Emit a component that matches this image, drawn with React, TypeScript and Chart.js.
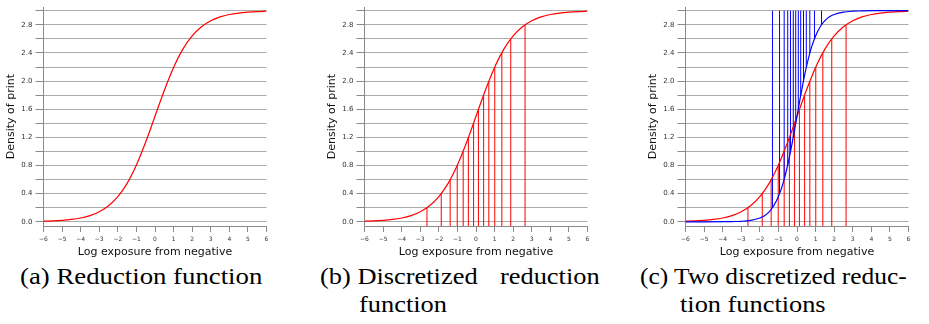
import React, { useEffect, useLayoutEffect, useRef } from 'react';
import { Chart, registerables } from 'chart.js';

Chart.register(...registerables);

// ---- data ----
const xTickValues = [-6, -5, -4, -3, -2, -1, 0, 1, 2, 3, 4, 5, 6];

// red (shallow) reduction function
const redExposure = [-6, -5.5, -5, -4.5, -4, -3.5, -3, -2.5, -2, -1.5, -1, -0.5, 0, 0.5, 1, 1.5, 2, 2.5, 3, 3.5, 4, 4.5, 5, 5.5, 6];
const redDensity = [0.01, 0.012, 0.02, 0.033, 0.054, 0.088, 0.142, 0.228, 0.358, 0.546, 0.807, 1.133, 1.5, 1.867, 2.193, 2.454, 2.642, 2.772, 2.858, 2.912, 2.946, 2.967, 2.98, 2.988, 2.993];

// blue (steep) reduction function
const blueExposure = [-6, -5, -4, -3.5, -3, -2.5, -2, -1.75, -1.5, -1.25, -1, -0.75, -0.5, -0.25, 0, 0.25, 0.5, 0.75, 1, 1.25, 1.5, 1.75, 2, 2.5, 3, 3.5, 4, 5, 6];
const blueDensity = [0.0, 0.0, 0.001, 0.003, 0.007, 0.02, 0.054, 0.087, 0.142, 0.228, 0.358, 0.546, 0.807, 1.133, 1.5, 1.867, 2.193, 2.454, 2.642, 2.772, 2.858, 2.913, 2.946, 2.98, 2.993, 2.997, 3.0, 3.0, 3.0];

// discretization levels and the exposures where each curve reaches them
const densityLevels = [0.2, 0.4, 0.6, 0.8, 1.0, 1.2, 1.4, 1.6, 1.8, 2.0, 2.2, 2.4, 2.6, 2.8];
const redSteps = [-2.64, -1.87, -1.39, -1.01, -0.69, -0.41, -0.13, 0.13, 0.41, 0.69, 1.01, 1.39, 1.87, 2.64];
const blueSteps = [-1.32, -0.94, -0.69, -0.5, -0.35, -0.2, -0.07, 0.07, 0.2, 0.35, 0.5, 0.69, 0.94, 1.32];
const densityTop = 3.0;

const Y_MIN = -0.06;
const Y_MAX = 3.05;

const AXIS_GRAY = '#8a8a8a';
const GRID_GRAY = '#ababab';
const FONT = "'DejaVu Sans', sans-serif";

type PanelProps = { left: number; steps: boolean; blue: boolean };

function Panel({ left, steps, blue }: PanelProps) {
  const ref = useRef<HTMLCanvasElement | null>(null);
  useEffect(() => {
    if (!ref.current) return;
    const datasets: any[] = [];
    if (blue) {
      datasets.push({
        data: blueExposure.map((x, i) => ({ x, y: blueDensity[i] })),
        borderColor: '#0000ff',
        borderWidth: 1.2,
        pointRadius: 0,
        cubicInterpolationMode: 'monotone',
        fill: false,
      });
    }
    datasets.push({
      data: redExposure.map((x, i) => ({ x, y: redDensity[i] })),
      borderColor: '#ff0000',
      borderWidth: 1.2,
      pointRadius: 0,
      cubicInterpolationMode: 'monotone',
      fill: false,
    });
    if (blue) {
      const pts: any[] = [];
      blueSteps.forEach((t, i) => {
        pts.push({ x: t, y: densityLevels[i] }, { x: t, y: densityTop }, { x: t, y: null });
      });
      datasets.push({
        data: pts,
        borderColor: '#0000ff',
        borderWidth: 1,
        pointRadius: 0,
        spanGaps: false,
        fill: false,
      });
    }
    if (steps) {
      const pts: any[] = [];
      redSteps.forEach((t, i) => {
        pts.push({ x: t, y: Y_MIN }, { x: t, y: densityLevels[i] }, { x: t, y: null });
      });
      datasets.push({
        data: pts,
        borderColor: '#ff0000',
        borderWidth: 1,
        pointRadius: 0,
        spanGaps: false,
        fill: false,
      });
    }

    const chart = new Chart(ref.current, {
      type: 'line',
      data: { datasets },
      options: {
        animation: false,
        responsive: false,
        maintainAspectRatio: false,
        events: [],
        layout: { padding: { top: 4, right: 13.5, left: 0, bottom: 0 } },
        plugins: { legend: { display: false }, tooltip: { enabled: false } },
        scales: {
          x: {
            type: 'linear',
            min: -6,
            max: 6,
            afterFit: (s: any) => { s.height = 36; },
            afterBuildTicks: (s: any) => { s.ticks = xTickValues.map((v) => ({ value: v })); },
            ticks: {
              stepSize: 1,
              autoSkip: false,
              maxRotation: 0,
              padding: 4,
              color: '#333',
              font: { family: FONT, size: 6 },
              callback: (v: any) => (Number(v) < 0 ? '\u2212' + Math.abs(Number(v)) : String(v)),
            },
            grid: { drawOnChartArea: false, drawTicks: true, tickLength: 6, tickColor: AXIS_GRAY },
            border: { display: true, color: AXIS_GRAY, width: 1 },
            title: {
              display: true,
              text: 'Log exposure from negative',
              color: '#111',
              font: { family: FONT, size: 11 },
              padding: { top: 0, bottom: 3 },
            },
          },
          y: {
            type: 'linear',
            min: Y_MIN,
            max: Y_MAX,
            afterFit: (s: any) => { s.width = 43.5; },
            ticks: {
              stepSize: 0.2,
              includeBounds: false,
              padding: 3,
              color: '#333',
              font: { family: FONT, size: 7 },
              callback: (v: any) => {
                const k = Math.round(Number(v) * 10);
                return k % 4 === 0 ? (k / 10).toFixed(1) : '';
              },
            },
            grid: { color: GRID_GRAY, lineWidth: 1, drawTicks: true, tickLength: 8, tickColor: AXIS_GRAY },
            border: { display: true, color: AXIS_GRAY, width: 1 },
            title: {
              display: true,
              text: 'Density of print',
              color: '#111',
              font: { family: FONT, size: 11 },
              padding: { top: 5, bottom: 0 },
            },
          },
        },
      },
    } as any);
    return () => chart.destroy();
  }, [steps, blue]);
  return (
    <canvas
      ref={ref}
      width={280}
      height={262}
      style={{ position: 'absolute', left, top: 0, width: 280, height: 262 }}
    />
  );
}

type CapProps = { text: string; left?: number; right?: number; top: number; width?: number; scale?: number };

// A caption line; if width is given it is horizontally scaled to span exactly that width.
function Cap({ text, left, right, top, width, scale = 1.1 }: CapProps) {
  const ref = useRef<HTMLSpanElement | null>(null);
  useLayoutEffect(() => {
    const el = ref.current;
    if (!el) return;
    el.style.transform = 'none';
    const w = el.offsetWidth;
    const s = width ? width / w : scale;
    el.style.transform = `scaleX(${s})`;
    if (right !== undefined) {
      el.style.left = `${right - w}px`;
      el.style.transformOrigin = 'right top';
    }
  }, [text, width, scale, right]);
  return (
    <span
      ref={ref}
      style={{
        position: 'absolute',
        left: left ?? 0,
        top,
        fontFamily: "'Liberation Serif', 'Times New Roman', serif",
        fontSize: 24,
        lineHeight: '24px',
        color: '#000',
        whiteSpace: 'nowrap',
        display: 'inline-block',
        transformOrigin: 'left top',
      }}
    >
      {text}
    </span>
  );
}

export default function App() {
  return (
    <div style={{ position: 'absolute', left: 0, top: 0, width: 929, height: 324, background: '#fff', overflow: 'hidden' }}>
      <Panel left={0} steps={false} blue={false} />
      <Panel left={321} steps={true} blue={false} />
      <Panel left={642} steps={true} blue={true} />

      <Cap text="(a) Reduction function" left={20} top={264} width={242} />

      <Cap text="(b) Discretized" left={320} top={264} />
      <Cap text="reduction" right={600} top={264} />
      <Cap text="function" left={359} top={292} />

      <Cap text="(c) Two discretized reduc-" left={640} top={264} width={267} />
      <Cap text="tion functions" left={680} top={292} width={146} />
    </div>
  );
}
